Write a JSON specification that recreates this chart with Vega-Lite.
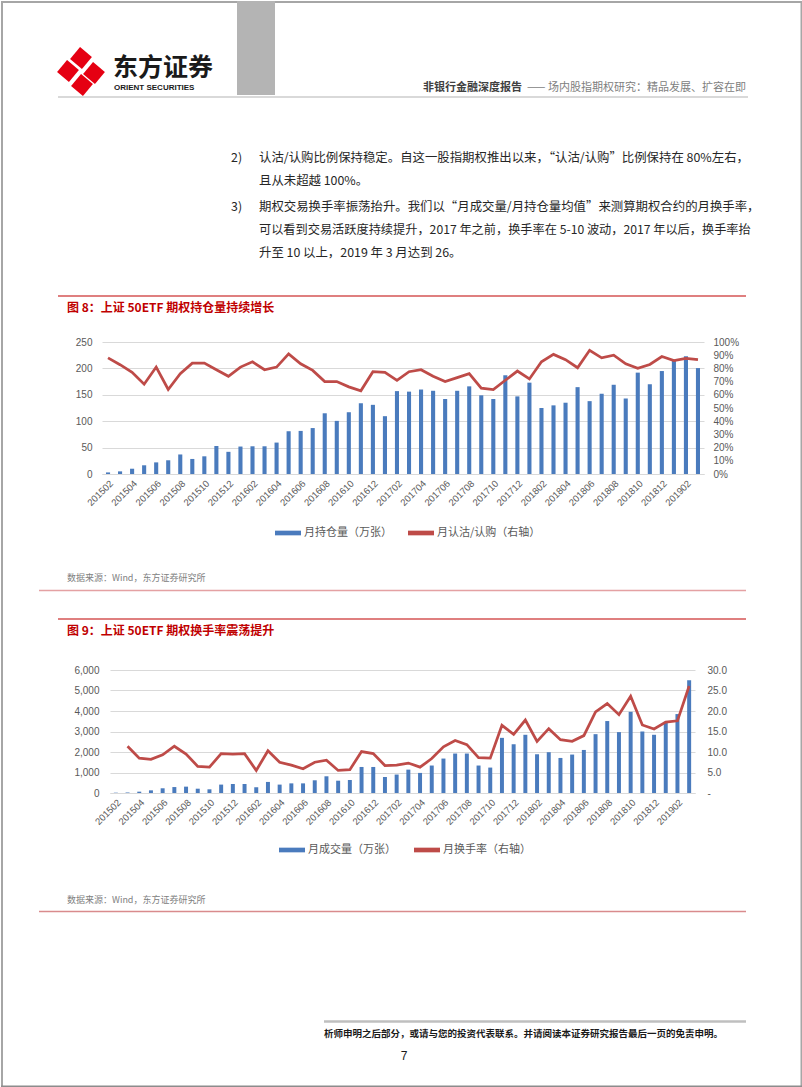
{
 "$schema": "https://vega.github.io/schema/vega-lite/v6.json",
 "padding": 0,
 "background": "white",
 "spacing": 0,
 "bounds": "flush",
 "resolve": {"scale": {"color": "independent"}, "legend": {"color": "independent"}},
 "datasets": {
  "c1": [
   {"m":"201502","hold":3,"ratio":0.88},{"m":"201503","hold":5,"ratio":0.828},{"m":"201504","hold":10,"ratio":0.77},{"m":"201505","hold":16.5,"ratio":0.68},{"m":"201506","hold":22,"ratio":0.81},{"m":"201507","hold":26,"ratio":0.64},{"m":"201508","hold":37,"ratio":0.76},{"m":"201509","hold":28.5,"ratio":0.84},{"m":"201510","hold":33.5,"ratio":0.84},{"m":"201511","hold":53,"ratio":0.79},{"m":"201512","hold":42,"ratio":0.74},
   {"m":"201601","hold":52,"ratio":0.81},{"m":"201602","hold":52.5,"ratio":0.85},{"m":"201603","hold":52.5,"ratio":0.79},{"m":"201604","hold":59.5,"ratio":0.81},{"m":"201605","hold":81,"ratio":0.91},{"m":"201606","hold":81.6,"ratio":0.835},{"m":"201607","hold":87,"ratio":0.785},{"m":"201608","hold":115,"ratio":0.70},{"m":"201609","hold":100.6,"ratio":0.70},{"m":"201610","hold":117,"ratio":0.66},{"m":"201611","hold":134,"ratio":0.63},{"m":"201612","hold":131,"ratio":0.775},
   {"m":"201701","hold":109.5,"ratio":0.77},{"m":"201702","hold":157,"ratio":0.71},{"m":"201703","hold":156,"ratio":0.775},{"m":"201704","hold":160,"ratio":0.79},{"m":"201705","hold":157.6,"ratio":0.74},{"m":"201706","hold":142,"ratio":0.70},{"m":"201707","hold":157.6,"ratio":0.73},{"m":"201708","hold":166,"ratio":0.76},{"m":"201709","hold":149,"ratio":0.65},{"m":"201710","hold":142,"ratio":0.64},{"m":"201711","hold":187,"ratio":0.71},{"m":"201712","hold":147,"ratio":0.78},
   {"m":"201801","hold":173,"ratio":0.72},{"m":"201802","hold":125,"ratio":0.85},{"m":"201803","hold":130,"ratio":0.906},{"m":"201804","hold":135,"ratio":0.866},{"m":"201805","hold":164.5,"ratio":0.805},{"m":"201806","hold":138,"ratio":0.937},{"m":"201807","hold":152,"ratio":0.88},{"m":"201808","hold":169,"ratio":0.90},{"m":"201809","hold":143,"ratio":0.835},{"m":"201810","hold":192,"ratio":0.80},{"m":"201811","hold":170,"ratio":0.83},{"m":"201812","hold":195,"ratio":0.89},
   {"m":"201901","hold":216.5,"ratio":0.86},{"m":"201902","hold":223,"ratio":0.876},{"m":"201903","hold":200.6,"ratio":0.866}
  ],
  "c2": [
   {"m":"201502","vol":15,"turn":null},{"m":"201503","vol":30,"turn":11.4},{"m":"201504","vol":65,"turn":8.5},{"m":"201505","vol":130,"turn":8.2},{"m":"201506","vol":230,"turn":9.3},{"m":"201507","vol":290,"turn":11.4},{"m":"201508","vol":310,"turn":9.5},{"m":"201509","vol":210,"turn":6.5},{"m":"201510","vol":180,"turn":6.3},{"m":"201511","vol":410,"turn":9.6},{"m":"201512","vol":440,"turn":9.5},
   {"m":"201601","vol":440,"turn":9.6},{"m":"201602","vol":280,"turn":5.5},{"m":"201603","vol":540,"turn":10.3},{"m":"201604","vol":410,"turn":7.5},{"m":"201605","vol":470,"turn":6.8},{"m":"201606","vol":470,"turn":5.9},{"m":"201607","vol":620,"turn":7.5},{"m":"201608","vol":815,"turn":8.0},{"m":"201609","vol":600,"turn":5.5},{"m":"201610","vol":635,"turn":5.7},{"m":"201611","vol":1270,"turn":10.1},{"m":"201612","vol":1270,"turn":9.6},
   {"m":"201701","vol":780,"turn":6.7},{"m":"201702","vol":900,"turn":6.8},{"m":"201703","vol":1140,"turn":7.3},{"m":"201704","vol":980,"turn":6.3},{"m":"201705","vol":1340,"turn":8.4},{"m":"201706","vol":1680,"turn":11.25},{"m":"201707","vol":1925,"turn":12.8},{"m":"201708","vol":1925,"turn":11.8},{"m":"201709","vol":1340,"turn":8.6},{"m":"201710","vol":1240,"turn":8.5},{"m":"201711","vol":2690,"turn":16.5},{"m":"201712","vol":2380,"turn":14.3},
   {"m":"201801","vol":2840,"turn":17.8},{"m":"201802","vol":1890,"turn":12.6},{"m":"201803","vol":1990,"turn":15.7},{"m":"201804","vol":1710,"turn":13.0},{"m":"201805","vol":1875,"turn":12.6},{"m":"201806","vol":2100,"turn":14.0},{"m":"201807","vol":2870,"turn":19.8},{"m":"201808","vol":3510,"turn":21.8},{"m":"201809","vol":2970,"turn":19.1},{"m":"201810","vol":3960,"turn":23.6},{"m":"201811","vol":3000,"turn":16.6},{"m":"201812","vol":2840,"turn":15.6},
   {"m":"201901","vol":3475,"turn":17.3},{"m":"201902","vol":3850,"turn":17.6},{"m":"201903","vol":5500,"turn":26.1}
  ]
 },
 "vconcat": [
  {
   "width": 802, "height": 341,
   "data": {"values": [{}]},
   "layer": [
    {"mark": {"type": "rule", "color": "#a6a6a6", "strokeWidth": 2}, "encoding": {"x": {"datum": 1, "type": "quantitative", "scale": {"domain": [0, 802], "nice": false, "zero": false}, "axis": null}, "y": {"datum": 0, "type": "quantitative", "scale": {"domain": [0, 341], "nice": false, "zero": false, "reverse": true}, "axis": null}, "y2": {"datum": 1086}}},
    {"mark": {"type": "rule", "color": "#a6a6a6", "strokeWidth": 2}, "encoding": {"x": {"datum": 800.5, "type": "quantitative", "scale": {"domain": [0, 802], "nice": false, "zero": false}, "axis": null}, "y": {"datum": 0, "type": "quantitative", "scale": {"domain": [0, 341], "nice": false, "zero": false, "reverse": true}, "axis": null}, "y2": {"datum": 1086}}},
    {"mark": {"type": "rule", "color": "#a6a6a6", "strokeWidth": 2}, "encoding": {"x": {"datum": 0, "type": "quantitative", "scale": {"domain": [0, 802], "nice": false, "zero": false}, "axis": null}, "x2": {"datum": 802}, "y": {"datum": 1, "type": "quantitative", "scale": {"domain": [0, 341], "nice": false, "zero": false, "reverse": true}, "axis": null}}},
    {"mark": {"type": "rect", "color": "#b4b4b4"}, "encoding": {"x": {"datum": 236, "type": "quantitative", "scale": {"domain": [0, 802], "nice": false, "zero": false}, "axis": null}, "x2": {"datum": 274}, "y": {"datum": 0, "type": "quantitative", "scale": {"domain": [0, 341], "nice": false, "zero": false, "reverse": true}, "axis": null}, "y2": {"datum": 94}}},
    {"mark": {"type": "point", "shape": "square", "filled": true, "color": "#e50012", "opacity": 1, "size": 240, "angle": 40}, "encoding": {"x": {"datum": 80, "type": "quantitative", "scale": {"domain": [0, 802], "nice": false, "zero": false}, "axis": null}, "y": {"datum": 57, "type": "quantitative", "scale": {"domain": [0, 341], "nice": false, "zero": false, "reverse": true}, "axis": null}}},
    {"mark": {"type": "point", "shape": "square", "filled": true, "color": "#e50012", "opacity": 1, "size": 240, "angle": 40}, "encoding": {"x": {"datum": 67, "type": "quantitative", "scale": {"domain": [0, 802], "nice": false, "zero": false}, "axis": null}, "y": {"datum": 70, "type": "quantitative", "scale": {"domain": [0, 341], "nice": false, "zero": false, "reverse": true}, "axis": null}}},
    {"mark": {"type": "point", "shape": "square", "filled": true, "color": "#e50012", "opacity": 1, "size": 240, "angle": 40}, "encoding": {"x": {"datum": 93, "type": "quantitative", "scale": {"domain": [0, 802], "nice": false, "zero": false}, "axis": null}, "y": {"datum": 72, "type": "quantitative", "scale": {"domain": [0, 341], "nice": false, "zero": false, "reverse": true}, "axis": null}}},
    {"mark": {"type": "point", "shape": "square", "filled": true, "color": "#e50012", "opacity": 1, "size": 240, "angle": 40}, "encoding": {"x": {"datum": 81, "type": "quantitative", "scale": {"domain": [0, 802], "nice": false, "zero": false}, "axis": null}, "y": {"datum": 84, "type": "quantitative", "scale": {"domain": [0, 341], "nice": false, "zero": false, "reverse": true}, "axis": null}}},
    {"mark": {"type": "text", "text": "东方证券", "align": "left", "baseline": "middle", "font": "Noto Sans CJK SC", "fontWeight": "bold", "fontSize": 25, "color": "#1a1a1a"}, "encoding": {"x": {"datum": 112, "type": "quantitative", "scale": {"domain": [0, 802], "nice": false, "zero": false}, "axis": null}, "y": {"datum": 67, "type": "quantitative", "scale": {"domain": [0, 341], "nice": false, "zero": false, "reverse": true}, "axis": null}}},
    {"mark": {"type": "text", "text": "ORIENT  SECURITIES", "align": "left", "baseline": "middle", "font": "Liberation Sans", "fontWeight": "bold", "fontSize": 8, "color": "#1a1a1a"}, "encoding": {"x": {"datum": 113, "type": "quantitative", "scale": {"domain": [0, 802], "nice": false, "zero": false}, "axis": null}, "y": {"datum": 87, "type": "quantitative", "scale": {"domain": [0, 341], "nice": false, "zero": false, "reverse": true}, "axis": null}}},
    {"mark": {"type": "text", "text": "非银行金融深度报告", "align": "left", "baseline": "middle", "font": "Noto Sans CJK SC", "fontWeight": "bold", "fontSize": 11, "color": "#404040"}, "encoding": {"x": {"datum": 422, "type": "quantitative", "scale": {"domain": [0, 802], "nice": false, "zero": false}, "axis": null}, "y": {"datum": 87, "type": "quantitative", "scale": {"domain": [0, 341], "nice": false, "zero": false, "reverse": true}, "axis": null}}},
    {"mark": {"type": "text", "text": "—— 场内股指期权研究：精品发展、扩容在即", "align": "left", "baseline": "middle", "font": "Noto Sans CJK SC", "fontSize": 11, "color": "#808080"}, "encoding": {"x": {"datum": 526, "type": "quantitative", "scale": {"domain": [0, 802], "nice": false, "zero": false}, "axis": null}, "y": {"datum": 87, "type": "quantitative", "scale": {"domain": [0, 341], "nice": false, "zero": false, "reverse": true}, "axis": null}}},
    {"mark": {"type": "rule", "color": "#d9d9d9", "strokeWidth": 2}, "encoding": {"x": {"datum": 57, "type": "quantitative", "scale": {"domain": [0, 802], "nice": false, "zero": false}, "axis": null}, "x2": {"datum": 747}, "y": {"datum": 96, "type": "quantitative", "scale": {"domain": [0, 341], "nice": false, "zero": false, "reverse": true}, "axis": null}}},
    {"mark": {"type": "text", "text": "2)", "align": "left", "baseline": "middle", "font": "Noto Sans CJK SC", "fontSize": 12.4, "color": "#262626"}, "encoding": {"x": {"datum": 230, "type": "quantitative", "scale": {"domain": [0, 802], "nice": false, "zero": false}, "axis": null}, "y": {"datum": 157, "type": "quantitative", "scale": {"domain": [0, 341], "nice": false, "zero": false, "reverse": true}, "axis": null}}},
    {"mark": {"type": "text", "text": "认沽/认购比例保持稳定。自这一股指期权推出以来，“认沽/认购”比例保持在 80%左右，", "align": "left", "baseline": "middle", "font": "Noto Sans CJK SC", "fontSize": 12.4, "color": "#262626"}, "encoding": {"x": {"datum": 258, "type": "quantitative", "scale": {"domain": [0, 802], "nice": false, "zero": false}, "axis": null}, "y": {"datum": 157, "type": "quantitative", "scale": {"domain": [0, 341], "nice": false, "zero": false, "reverse": true}, "axis": null}}},
    {"mark": {"type": "text", "text": "且从未超越 100%。", "align": "left", "baseline": "middle", "font": "Noto Sans CJK SC", "fontSize": 12.4, "color": "#262626"}, "encoding": {"x": {"datum": 258, "type": "quantitative", "scale": {"domain": [0, 802], "nice": false, "zero": false}, "axis": null}, "y": {"datum": 180, "type": "quantitative", "scale": {"domain": [0, 341], "nice": false, "zero": false, "reverse": true}, "axis": null}}},
    {"mark": {"type": "text", "text": "3)", "align": "left", "baseline": "middle", "font": "Noto Sans CJK SC", "fontSize": 12.4, "color": "#262626"}, "encoding": {"x": {"datum": 230, "type": "quantitative", "scale": {"domain": [0, 802], "nice": false, "zero": false}, "axis": null}, "y": {"datum": 206, "type": "quantitative", "scale": {"domain": [0, 341], "nice": false, "zero": false, "reverse": true}, "axis": null}}},
    {"mark": {"type": "text", "text": "期权交易换手率振荡抬升。我们以“月成交量/月持仓量均值”来测算期权合约的月换手率，", "align": "left", "baseline": "middle", "font": "Noto Sans CJK SC", "fontSize": 12.4, "color": "#262626"}, "encoding": {"x": {"datum": 258, "type": "quantitative", "scale": {"domain": [0, 802], "nice": false, "zero": false}, "axis": null}, "y": {"datum": 206, "type": "quantitative", "scale": {"domain": [0, 341], "nice": false, "zero": false, "reverse": true}, "axis": null}}},
    {"mark": {"type": "text", "text": "可以看到交易活跃度持续提升，2017 年之前，换手率在 5-10 波动，2017 年以后，换手率抬", "align": "left", "baseline": "middle", "font": "Noto Sans CJK SC", "fontSize": 12.2, "color": "#262626"}, "encoding": {"x": {"datum": 258, "type": "quantitative", "scale": {"domain": [0, 802], "nice": false, "zero": false}, "axis": null}, "y": {"datum": 229, "type": "quantitative", "scale": {"domain": [0, 341], "nice": false, "zero": false, "reverse": true}, "axis": null}}},
    {"mark": {"type": "text", "text": "升至 10 以上，2019 年 3 月达到 26。", "align": "left", "baseline": "middle", "font": "Noto Sans CJK SC", "fontSize": 12.4, "color": "#262626"}, "encoding": {"x": {"datum": 258, "type": "quantitative", "scale": {"domain": [0, 802], "nice": false, "zero": false}, "axis": null}, "y": {"datum": 252, "type": "quantitative", "scale": {"domain": [0, 341], "nice": false, "zero": false, "reverse": true}, "axis": null}}},
    {"mark": {"type": "rule", "color": "#c00000", "strokeWidth": 1.2}, "encoding": {"x": {"datum": 57, "type": "quantitative", "scale": {"domain": [0, 802], "nice": false, "zero": false}, "axis": null}, "x2": {"datum": 745}, "y": {"datum": 295, "type": "quantitative", "scale": {"domain": [0, 341], "nice": false, "zero": false, "reverse": true}, "axis": null}}},
    {"mark": {"type": "text", "text": "图 8：上证 50ETF 期权持仓量持续增长", "align": "left", "baseline": "middle", "font": "Noto Sans CJK SC", "fontWeight": "bold", "fontSize": 12, "color": "#c00000"}, "encoding": {"x": {"datum": 66, "type": "quantitative", "scale": {"domain": [0, 802], "nice": false, "zero": false}, "axis": null}, "y": {"datum": 306.5, "type": "quantitative", "scale": {"domain": [0, 341], "nice": false, "zero": false, "reverse": true}, "axis": null}}}
   ]
  },
  {
   "width": 802, "height": 132,
   "data": {"name": "c1"},
   "layer": [
    {"mark": {"type": "bar"},
     "encoding": {
      "x": {"field": "m", "type": "ordinal", "scale": {"range": [101, 703], "paddingInner": 0.66, "paddingOuter": 0.33},
            "axis": {"title": null, "values": ["201502","201504","201506","201508","201510","201512","201602","201604","201606","201608","201610","201612","201702","201704","201706","201708","201710","201712","201802","201804","201806","201808","201810","201812","201902"], "labelAngle": -45, "labelFontSize": 9.5, "labelPadding": 4, "domain": true, "domainColor": "#d9d9d9", "ticks": false, "grid": false}},
      "y": {"field": "hold", "type": "quantitative", "scale": {"domain": [0, 250], "nice": false},
            "axis": {"title": null, "offset": -101, "values": [0, 50, 100, 150, 200, 250], "grid": true, "gridColor": "#d9d9d9", "domain": false, "ticks": false, "labelFontSize": 10, "labelPadding": 10}},
      "color": {"datum": "月持仓量（万张）", "type": "nominal", "scale": {"domain": ["月持仓量（万张）", "月认沽/认购（右轴）"], "range": ["#4a7bbd", "#be4b48"]},
                "legend": {"title": null, "orient": "none", "legendX": 274, "legendY": 178, "direction": "horizontal", "symbolType": "M-1,-0.18H1V0.18H-1Z", "symbolSize": 676, "symbolStrokeWidth": 0, "labelFont": "Noto Sans CJK SC", "labelFontSize": 11, "labelColor": "#595959", "columnPadding": 16, "labelOffset": 3, "padding": 0}}
     }},
    {"mark": {"type": "line", "strokeWidth": 2.75},
     "encoding": {
      "x": {"field": "m", "type": "ordinal"},
      "y": {"field": "ratio", "type": "quantitative", "scale": {"domain": [0, 1], "nice": false},
            "axis": {"title": null, "orient": "right", "offset": -99, "format": ".0%", "values": [0, 0.1, 0.2, 0.3, 0.4, 0.5, 0.6, 0.7, 0.8, 0.9, 1], "grid": false, "domain": false, "ticks": false, "labelFontSize": 10, "labelPadding": 9}},
      "color": {"datum": "月认沽/认购（右轴）", "type": "nominal"}
     }}
   ],
   "resolve": {"scale": {"y": "independent"}}
  },
  {
   "width": 802, "height": 196,
   "data": {"values": [{}]},
   "layer": [
    {"mark": {"type": "text", "text": "数据来源：Wind，东方证券研究所", "align": "left", "baseline": "middle", "font": "Noto Sans CJK SC", "fontSize": 9, "color": "#808080"}, "encoding": {"x": {"datum": 66, "type": "quantitative", "scale": {"domain": [0, 802], "nice": false, "zero": false}, "axis": null}, "y": {"datum": 577, "type": "quantitative", "scale": {"domain": [473, 669], "nice": false, "zero": false, "reverse": true}, "axis": null}}},
    {"mark": {"type": "rule", "color": "#e4a1a3", "strokeWidth": 1.5}, "encoding": {"x": {"datum": 38, "type": "quantitative", "scale": {"domain": [0, 802], "nice": false, "zero": false}, "axis": null}, "x2": {"datum": 745}, "y": {"datum": 589.5, "type": "quantitative", "scale": {"domain": [473, 669], "nice": false, "zero": false, "reverse": true}, "axis": null}}},
    {"mark": {"type": "rule", "color": "#c00000", "strokeWidth": 1.2}, "encoding": {"x": {"datum": 57, "type": "quantitative", "scale": {"domain": [0, 802], "nice": false, "zero": false}, "axis": null}, "x2": {"datum": 745}, "y": {"datum": 618, "type": "quantitative", "scale": {"domain": [473, 669], "nice": false, "zero": false, "reverse": true}, "axis": null}}},
    {"mark": {"type": "text", "text": "图 9：上证 50ETF 期权换手率震荡提升", "align": "left", "baseline": "middle", "font": "Noto Sans CJK SC", "fontWeight": "bold", "fontSize": 12, "color": "#c00000"}, "encoding": {"x": {"datum": 66, "type": "quantitative", "scale": {"domain": [0, 802], "nice": false, "zero": false}, "axis": null}, "y": {"datum": 629.5, "type": "quantitative", "scale": {"domain": [473, 669], "nice": false, "zero": false, "reverse": true}, "axis": null}}}
   ]
  },
  {
   "width": 802, "height": 123,
   "data": {"name": "c2"},
   "layer": [
    {"mark": {"type": "bar"},
     "encoding": {
      "x": {"field": "m", "type": "ordinal", "scale": {"range": [109, 694], "paddingInner": 0.66, "paddingOuter": 0.33},
            "axis": {"title": null, "values": ["201502","201504","201506","201508","201510","201512","201602","201604","201606","201608","201610","201612","201702","201704","201706","201708","201710","201712","201802","201804","201806","201808","201810","201812","201902"], "labelAngle": -45, "labelFontSize": 9.5, "labelPadding": 4, "domain": true, "domainColor": "#d9d9d9", "ticks": false, "grid": false}},
      "y": {"field": "vol", "type": "quantitative", "scale": {"domain": [0, 6000], "nice": false},
            "axis": {"title": null, "offset": -109, "values": [0, 1000, 2000, 3000, 4000, 5000, 6000], "format": ",.0f", "grid": true, "gridColor": "#d9d9d9", "domain": false, "ticks": false, "labelFontSize": 10, "labelPadding": 11}},
      "color": {"datum": "月成交量（万张）", "type": "nominal", "scale": {"domain": ["月成交量（万张）", "月换手率（右轴）"], "range": ["#4a7bbd", "#be4b48"]},
                "legend": {"title": null, "orient": "none", "legendX": 278, "legendY": 167, "direction": "horizontal", "symbolType": "M-1,-0.18H1V0.18H-1Z", "symbolSize": 676, "symbolStrokeWidth": 0, "labelFont": "Noto Sans CJK SC", "labelFontSize": 11, "labelColor": "#595959", "columnPadding": 18, "labelOffset": 3, "padding": 0}}
     }},
    {"mark": {"type": "line", "strokeWidth": 2.75},
     "encoding": {
      "x": {"field": "m", "type": "ordinal"},
      "y": {"field": "turn", "type": "quantitative", "scale": {"domain": [0, 30], "nice": false},
            "axis": {"title": null, "orient": "right", "offset": -108, "values": [0, 5, 10, 15, 20, 25, 30], "labelExpr": "datum.value === 0 ? '-' : format(datum.value, '.1f')", "grid": false, "domain": false, "ticks": false, "labelFontSize": 10, "labelPadding": 12}},
      "color": {"datum": "月换手率（右轴）", "type": "nominal"}
     }}
   ],
   "resolve": {"scale": {"y": "independent"}}
  },
  {
   "width": 802, "height": 295,
   "data": {"values": [{}]},
   "layer": [
    {"mark": {"type": "text", "text": "数据来源：Wind，东方证券研究所", "align": "left", "baseline": "middle", "font": "Noto Sans CJK SC", "fontSize": 9, "color": "#808080"}, "encoding": {"x": {"datum": 66, "type": "quantitative", "scale": {"domain": [0, 802], "nice": false, "zero": false}, "axis": null}, "y": {"datum": 899, "type": "quantitative", "scale": {"domain": [792, 1087], "nice": false, "zero": false, "reverse": true}, "axis": null}}},
    {"mark": {"type": "rule", "color": "#d98b8d", "strokeWidth": 1.5}, "encoding": {"x": {"datum": 38, "type": "quantitative", "scale": {"domain": [0, 802], "nice": false, "zero": false}, "axis": null}, "x2": {"datum": 745}, "y": {"datum": 910.5, "type": "quantitative", "scale": {"domain": [792, 1087], "nice": false, "zero": false, "reverse": true}, "axis": null}}},
    {"mark": {"type": "rule", "color": "#bfbfbf", "strokeWidth": 2.5}, "encoding": {"x": {"datum": 323, "type": "quantitative", "scale": {"domain": [0, 802], "nice": false, "zero": false}, "axis": null}, "x2": {"datum": 745}, "y": {"datum": 1020.5, "type": "quantitative", "scale": {"domain": [792, 1087], "nice": false, "zero": false, "reverse": true}, "axis": null}}},
    {"mark": {"type": "text", "text": "析师申明之后部分，或请与您的投资代表联系。并请阅读本证券研究报告最后一页的免责申明。", "align": "left", "baseline": "middle", "font": "Noto Sans CJK SC", "fontWeight": "bold", "fontSize": 9.5, "color": "#1a1a1a"}, "encoding": {"x": {"datum": 323, "type": "quantitative", "scale": {"domain": [0, 802], "nice": false, "zero": false}, "axis": null}, "y": {"datum": 1033, "type": "quantitative", "scale": {"domain": [792, 1087], "nice": false, "zero": false, "reverse": true}, "axis": null}}},
    {"mark": {"type": "text", "text": "7", "align": "center", "baseline": "middle", "font": "Liberation Sans", "fontSize": 12, "color": "#1a1a1a"}, "encoding": {"x": {"datum": 403, "type": "quantitative", "scale": {"domain": [0, 802], "nice": false, "zero": false}, "axis": null}, "y": {"datum": 1055, "type": "quantitative", "scale": {"domain": [792, 1087], "nice": false, "zero": false, "reverse": true}, "axis": null}}},
    {"mark": {"type": "rule", "color": "#8c8c8c", "strokeWidth": 2}, "encoding": {"x": {"datum": 0, "type": "quantitative", "scale": {"domain": [0, 802], "nice": false, "zero": false}, "axis": null}, "x2": {"datum": 802}, "y": {"datum": 1085.5, "type": "quantitative", "scale": {"domain": [792, 1087], "nice": false, "zero": false, "reverse": true}, "axis": null}}}
   ]
  }
 ],
 "config": {
  "view": {"stroke": null},
  "font": "Noto Sans CJK SC",
  "axis": {"labelFont": "Liberation Sans", "labelColor": "#595959"}
 }
}
